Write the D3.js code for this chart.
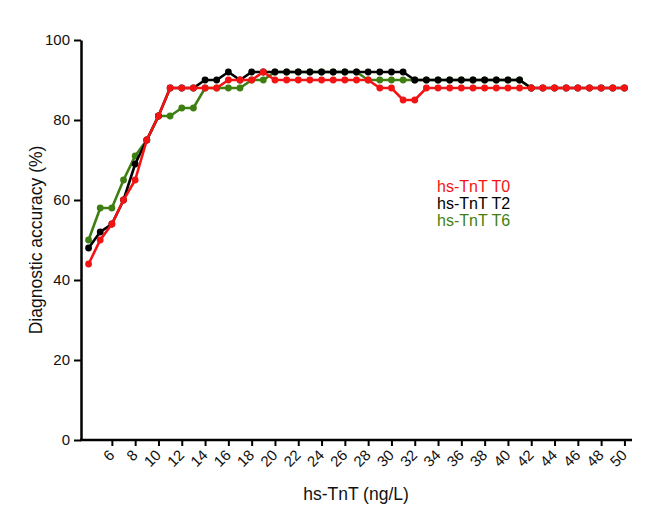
<!DOCTYPE html>
<html><head><meta charset="utf-8">
<script src="https://cdn.jsdelivr.net/npm/d3@7"></script>
<style>body{margin:0;background:#fff}svg{display:block}text{font-family:"Liberation Sans",Arial,sans-serif}</style>
</head><body><svg id="c" width="653" height="528"></svg>
<script>
const xValues = d3.range(4, 51);
const t0 = [44,50,54,60,65,75,81,88,88,88,88,88,90,90,90,92,90,90,90,90,90,90,90,90,90,88,88,85,85,88,88,88,88,88,88,88,88,88,88,88,88,88,88,88,88,88,88];
const t2 = [48,52,54,60,69,75,81,88,88,88,90,90,92,90,92,92,92,92,92,92,92,92,92,92,92,92,92,92,90,90,90,90,90,90,90,90,90,90,88,88,88,88,88,88,88,88,88];
const t6 = [50,58,58,65,71,75,81,81,83,83,88,88,88,88,90,90,92,92,92,92,92,92,92,92,90,90,90,90,90,90,90,90,90,90,90,90,90,90,88];
const xTicks = d3.range(6, 51, 2);
const yTicks = [0,20,40,60,80,100];
const seriesNames = ["hs-TnT T0","hs-TnT T2","hs-TnT T6"];
const seriesColors = ["#f21414","#000000","#3f7f12"];

const svg = d3.select("#c");
const x = d3.scaleLinear().domain([3.35, 50.65]).range([81, 632]);
const y = d3.scaleLinear().domain([0, 100]).range([440, 40]);

// y axis
const ya = svg.append("g").attr("transform","translate(81,0)")
  .call(d3.axisLeft(y).tickValues(yTicks).tickSize(7).tickPadding(4).tickSizeOuter(0));
ya.select(".domain").attr("stroke","#000").attr("stroke-width",2.5);
ya.selectAll(".tick line").attr("stroke-width",2);
ya.selectAll(".tick text").attr("font-size",15).attr("fill","#111").style("font-family","Liberation Sans, Arial");

// x axis
const xa = svg.append("g").attr("transform","translate(0,440)")
  .call(d3.axisBottom(x).tickValues(xTicks).tickSize(6).tickSizeOuter(0));
xa.select(".domain").attr("stroke","#000").attr("stroke-width",2.5).attr("d","M80,0H632");
xa.selectAll(".tick line").attr("stroke-width",2);
xa.selectAll(".tick text").attr("font-size",15).attr("fill","#111")
  .attr("text-anchor","end").attr("dy","0").attr("dx","0")
  .attr("transform","translate(3,16) rotate(-45)")
  .attr("y",0).attr("x",0)
  .style("font-family","Liberation Sans, Arial");

// labels
svg.append("text").attr("transform","translate(42,240) rotate(-90)")
  .attr("text-anchor","middle").attr("font-size",17.5).attr("fill","#111").text("Diagnostic accuracy (%)");
svg.append("text").attr("x",356).attr("y",500).attr("text-anchor","middle")
  .attr("font-size",17.5).attr("fill","#111").text("hs-TnT (ng/L)");

const data = [t0, t2, t6];
const line = d3.line().x(d=>x(d[0])).y(d=>y(d[1]));
[2,1,0].forEach(i=>{
  const pts = data[i].map((v,k)=>[xValues[k], v]);
  const g = svg.append("g");
  g.append("path").attr("d", line(pts)).attr("fill","none")
    .attr("stroke", seriesColors[i]).attr("stroke-width",2.6);
  g.selectAll("circle").data(pts).join("circle")
    .attr("cx",d=>x(d[0])).attr("cy",d=>y(d[1])).attr("r",3.4)
    .attr("fill",seriesColors[i]);
});

// legend
seriesNames.forEach((n,i)=>{
  svg.append("text").attr("x",437).attr("y",192+i*17).attr("font-size",16)
    .attr("fill",seriesColors[i]).text(n);
});
</script></body></html>
